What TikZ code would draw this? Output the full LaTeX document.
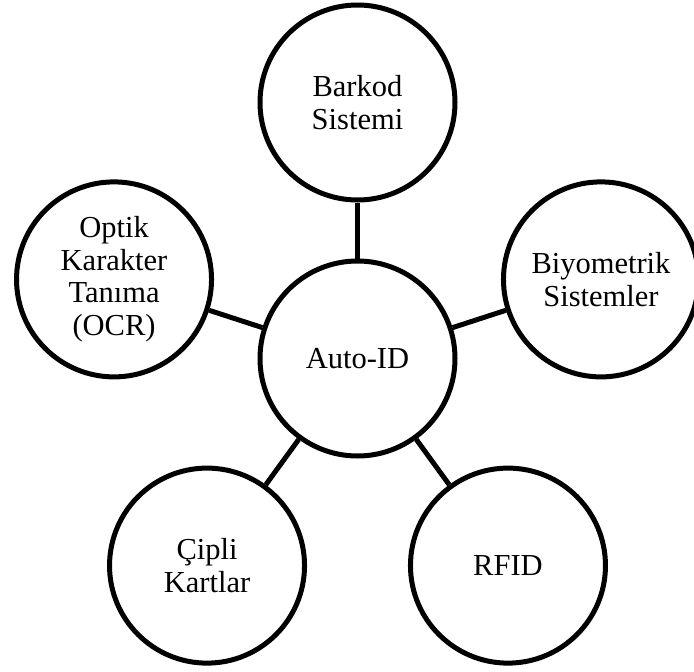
\documentclass[tikz,border=0pt]{standalone}
\usepackage{fontspec}
\setmainfont{Liberation Serif}
\begin{document}
\begin{tikzpicture}[x=1pt,y=1pt,
  ring/.style={draw=black, line width=5pt, circle, minimum size=195pt,
               inner sep=0pt, align=center,
               font=\fontsize{30.5}{32.5}\selectfont},
  spoke/.style={draw=black, line width=5pt}]
  \useasboundingbox (0,0) rectangle (694,-672);
  % hub
  \node[ring] (hub) at (357.5,-358.5) {Auto-ID};
  % satellites on a regular pentagon around the hub
  \node[ring] (bar) at ([shift={(90:256)}]hub.center)  {Barkod\\Sistemi};
  \node[ring] (bio) at ([shift={(18:256)}]hub.center)  {Biyometrik\\Sistemler};
  \node[ring] (rfid) at ([shift={(-54:256)}]hub.center) {RFID};
  \node[ring] (cip) at ([shift={(234:256)}]hub.center) {Çipli\\Kartlar};
  \node[ring] (ocr) at ([shift={(162:256)}]hub.center) {Optik\\Karakter\\Tanıma\\(OCR)};
  % spokes
  \foreach \n in {bar,bio,rfid,cip,ocr}
    \draw[spoke] (hub) -- (\n);
\end{tikzpicture}
\end{document}
